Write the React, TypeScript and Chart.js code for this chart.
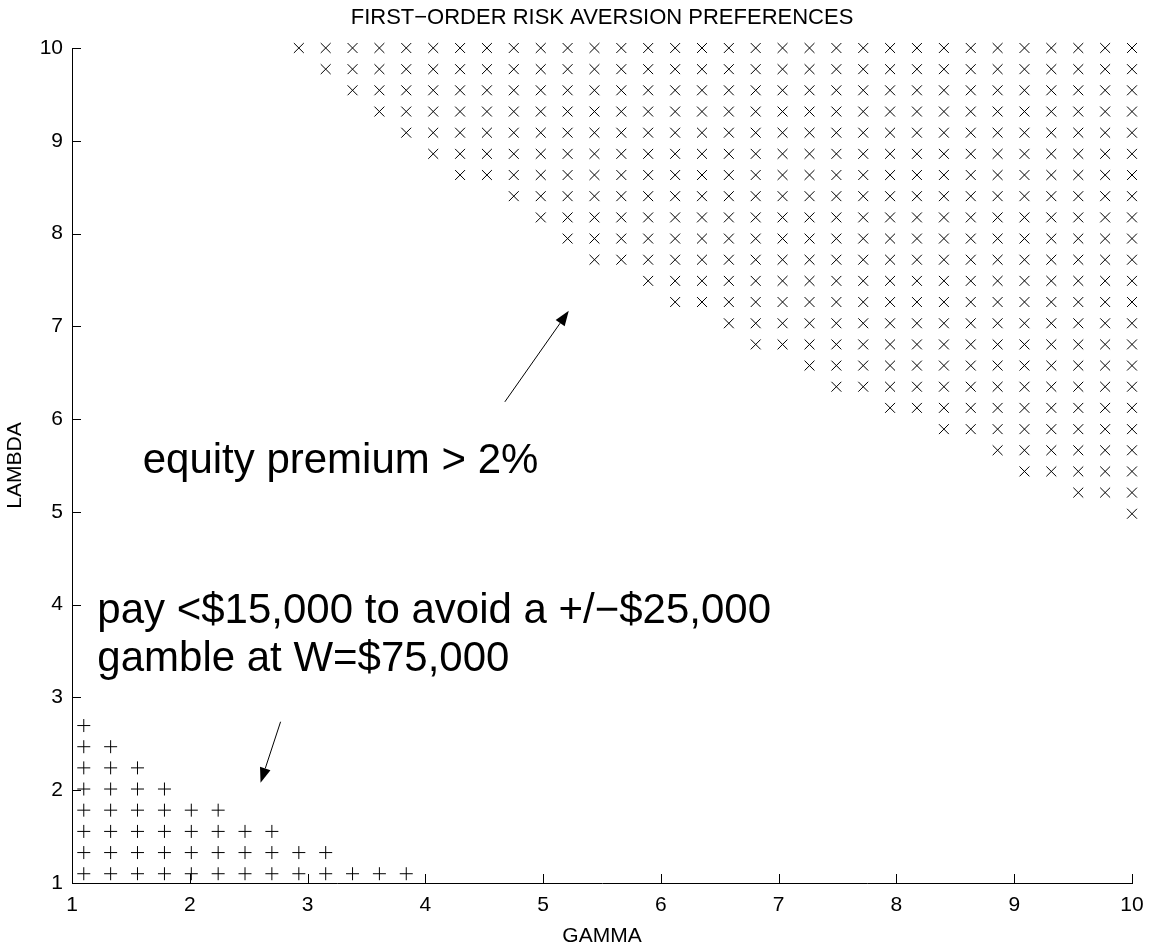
import React, { useEffect, useRef } from 'react';
import { Chart, registerables } from 'chart.js';

Chart.register(...registerables);

const FONT = '"Liberation Sans", Arial, Helvetica, sans-serif';

const TITLE = 'FIRST−ORDER RISK AVERSION PREFERENCES';
const X_LABEL = 'GAMMA';
const Y_LABEL = 'LAMBDA';
const X_TICKS = [1, 2, 3, 4, 5, 6, 7, 8, 9, 10];
const Y_TICKS = [1, 2, 3, 4, 5, 6, 7, 8, 9, 10];

// sampled parameter grid (40 values each)
const GAMMA_GRID = [
  1.1, 1.328, 1.556, 1.785, 2.013, 2.241, 2.469, 2.697, 2.926, 3.154,
  3.382, 3.61, 3.838, 4.067, 4.295, 4.523, 4.751, 4.98, 5.208, 5.436,
  5.664, 5.892, 6.121, 6.349, 6.577, 6.805, 7.033, 7.262, 7.49, 7.718,
  7.946, 8.174, 8.403, 8.631, 8.859, 9.087, 9.315, 9.544, 9.772, 10.0,
];
const LAMBDA_GRID = [
  1.1, 1.328, 1.556, 1.785, 2.013, 2.241, 2.469, 2.697, 2.926, 3.154,
  3.382, 3.61, 3.838, 4.067, 4.295, 4.523, 4.751, 4.98, 5.208, 5.436,
  5.664, 5.892, 6.121, 6.349, 6.577, 6.805, 7.033, 7.262, 7.49, 7.718,
  7.946, 8.174, 8.403, 8.631, 8.859, 9.087, 9.315, 9.544, 9.772, 10.0,
];

// "equity premium > 2%" cells (x markers): per lambda row, first gamma index; marks run to gamma = 10
const EP_ROW_LAMBDA_INDEX = [39, 38, 37, 36, 35, 34, 33, 32, 31, 30, 29, 28, 27, 26, 25, 24, 23, 22, 21, 20, 19, 18, 17];
const EP_ROW_FIRST_GAMMA_INDEX = [8, 9, 10, 11, 12, 13, 14, 16, 17, 18, 19, 21, 22, 24, 25, 27, 28, 30, 32, 34, 35, 37, 39];

// "pay < $15,000" cells (+ markers): per lambda row, last gamma index; marks start at first gamma
const GAMBLE_ROW_LAMBDA_INDEX = [0, 1, 2, 3, 4, 5, 6, 7];
const GAMBLE_ROW_LAST_GAMMA_INDEX = [12, 9, 7, 5, 3, 2, 1, 0];

// text annotations (data coordinates, left aligned, alphabetic baseline)
const NOTE_TEXT = ['equity premium > 2%', 'pay <$15,000 to avoid a +/−$25,000', 'gamble at W=$75,000'];
const NOTE_GAMMA = [1.6, 1.215, 1.215];
const NOTE_LAMBDA = [5.42, 3.8, 3.29];

// arrows (data coordinates)
const ARROW_TAIL_GAMMA = [4.675, 2.771];
const ARROW_TAIL_LAMBDA = [6.186, 2.738];
const ARROW_TIP_GAMMA = [5.218, 2.601];
const ARROW_TIP_LAMBDA = [7.167, 2.081];

const TICK_LEN = 9;

function buildEpPoints() {
  const pts: { x: number; y: number }[] = [];
  EP_ROW_LAMBDA_INDEX.forEach((li, r) => {
    for (let gi = EP_ROW_FIRST_GAMMA_INDEX[r]; gi < GAMMA_GRID.length; gi++) {
      pts.push({ x: GAMMA_GRID[gi], y: LAMBDA_GRID[li] });
    }
  });
  return pts;
}

function buildGamblePoints() {
  const pts: { x: number; y: number }[] = [];
  GAMBLE_ROW_LAMBDA_INDEX.forEach((li, r) => {
    for (let gi = 0; gi <= GAMBLE_ROW_LAST_GAMMA_INDEX[r]; gi++) {
      pts.push({ x: GAMMA_GRID[gi], y: LAMBDA_GRID[li] });
    }
  });
  return pts;
}

function drawArrow(ctx: CanvasRenderingContext2D, x0: number, y0: number, x1: number, y1: number) {
  const ang = Math.atan2(y1 - y0, x1 - x0);
  const L = 15;
  const W = 5.5;
  const bx = x1 - L * Math.cos(ang);
  const by = y1 - L * Math.sin(ang);
  ctx.beginPath();
  ctx.moveTo(x0, y0);
  ctx.lineTo(bx, by);
  ctx.stroke();
  ctx.beginPath();
  ctx.moveTo(x1, y1);
  ctx.lineTo(bx + W * Math.sin(ang), by - W * Math.cos(ang));
  ctx.lineTo(bx - W * Math.sin(ang), by + W * Math.cos(ang));
  ctx.closePath();
  ctx.fill();
}

const overlayPlugin = {
  id: 'overlay',
  afterDraw(chart: any) {
    const { ctx, chartArea } = chart;
    const xs = chart.scales.x;
    const ys = chart.scales.y;
    ctx.save();
    ctx.strokeStyle = '#000';
    ctx.fillStyle = '#000';
    ctx.lineWidth = 1;
    // inward tick marks
    ctx.beginPath();
    X_TICKS.forEach((v) => {
      const px = Math.round(xs.getPixelForValue(v)) + 0.5;
      ctx.moveTo(px, chartArea.bottom);
      ctx.lineTo(px, chartArea.bottom - TICK_LEN);
    });
    Y_TICKS.forEach((v) => {
      const py = Math.round(ys.getPixelForValue(v)) + 0.5;
      ctx.moveTo(chartArea.left, py);
      ctx.lineTo(chartArea.left + TICK_LEN, py);
    });
    ctx.stroke();

    // annotations
    ctx.font = `42px ${FONT}`;
    ctx.textAlign = 'left';
    ctx.textBaseline = 'alphabetic';
    NOTE_TEXT.forEach((t, i) => {
      ctx.fillText(t, xs.getPixelForValue(NOTE_GAMMA[i]), ys.getPixelForValue(NOTE_LAMBDA[i]));
    });

    // arrows
    ARROW_TAIL_GAMMA.forEach((_, i) => {
      drawArrow(
        ctx,
        xs.getPixelForValue(ARROW_TAIL_GAMMA[i]),
        ys.getPixelForValue(ARROW_TAIL_LAMBDA[i]),
        xs.getPixelForValue(ARROW_TIP_GAMMA[i]),
        ys.getPixelForValue(ARROW_TIP_LAMBDA[i])
      );
    });
    ctx.restore();
  },
};

export default function App() {
  const ref = useRef<HTMLCanvasElement | null>(null);

  useEffect(() => {
    document.body.style.margin = '0';
    const canvas = ref.current;
    if (!canvas) return;
    const chart = new Chart(canvas, {
      type: 'scatter',
      data: {
        datasets: [
          {
            label: 'equity premium > 2%',
            data: buildEpPoints(),
            pointStyle: 'crossRot',
            pointRadius: 7,
            pointHoverRadius: 7,
            pointBorderColor: '#000',
            pointBackgroundColor: 'transparent',
            pointBorderWidth: 1,
            showLine: false,
            clip: false,
          } as any,
          {
            label: 'pay <$15,000',
            data: buildGamblePoints(),
            pointStyle: 'cross',
            pointRadius: 6.5,
            pointHoverRadius: 6.5,
            pointBorderColor: '#000',
            pointBackgroundColor: 'transparent',
            pointBorderWidth: 1,
            showLine: false,
            clip: false,
          } as any,
        ],
      },
      options: {
        responsive: false,
        animation: false,
        devicePixelRatio: 1,
        events: [],
        layout: { padding: { left: 0, right: 26, top: 0, bottom: 0 } },
        plugins: {
          legend: { display: false },
          tooltip: { enabled: false },
          title: {
            display: true,
            text: TITLE,
            fullSize: false,
            color: '#000',
            font: { family: FONT, size: 22, weight: 'normal', lineHeight: 1.2 },
            padding: { top: 5, bottom: 16.6 },
          },
        },
        scales: {
          x: {
            type: 'linear',
            min: 1,
            max: 10,
            afterFit: (s: any) => {
              s.height = 64;
            },
            afterBuildTicks: (s: any) => {
              s.ticks = X_TICKS.map((v) => ({ value: v }));
            },
            ticks: {
              color: '#000',
              font: { family: FONT, size: 21 },
              padding: 10,
              maxRotation: 0,
              callback: (v: any) => String(v),
            },
            grid: { display: false, drawTicks: false },
            border: { display: true, color: '#000', width: 1 },
            title: {
              display: true,
              text: X_LABEL,
              color: '#000',
              font: { family: FONT, size: 21, lineHeight: 1 },
              padding: { top: 0, bottom: 0 },
            },
          },
          y: {
            type: 'linear',
            min: 1,
            max: 10,
            afterFit: (s: any) => {
              s.width = 72;
            },
            afterBuildTicks: (s: any) => {
              s.ticks = Y_TICKS.map((v) => ({ value: v }));
            },
            ticks: {
              color: '#000',
              font: { family: FONT, size: 21 },
              padding: 9,
              callback: (v: any) => String(v),
            },
            grid: { display: false, drawTicks: false },
            border: { display: true, color: '#000', width: 1 },
            title: {
              display: true,
              text: Y_LABEL,
              color: '#000',
              font: { family: FONT, size: 21, lineHeight: 1 },
              padding: { top: 4.5, bottom: 0 },
            },
          },
        },
      },
      plugins: [overlayPlugin],
    } as any);
    return () => chart.destroy();
  }, []);

  return (
    <div style={{ position: 'absolute', left: 0, top: 0, width: 1158, height: 947, background: '#fff' }}>
      <canvas ref={ref} width={1158} height={947} style={{ display: 'block' }} />
    </div>
  );
}
